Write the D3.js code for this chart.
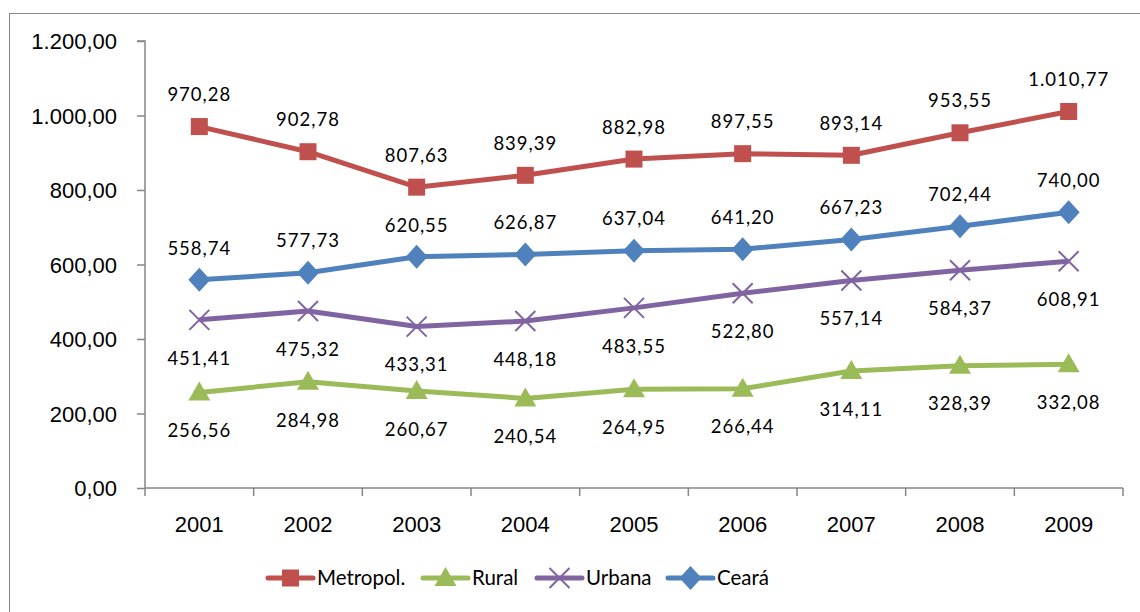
<!DOCTYPE html>
<html lang="pt">
<head>
<meta charset="UTF-8">
<title>Metropol. / Rural / Urbana / Ceará</title>
<script src="https://d3js.org/d3.v7.min.js"></script>
<style>
    body { margin: 0; background: #fff; font-family: Lato, "Open Sans", sans-serif; }
    .tick text { font-size: 22px; fill: #000; }
    .data-label { font-size: 18.5px; letter-spacing: 1px; fill: #000; }
    .legend text { font-size: 20.5px; fill: #000; }
</style>
</head>
<body>
<div id="chart"></div>
<script>
    const years = ["2001", "2002", "2003", "2004", "2005", "2006", "2007", "2008", "2009"];
    const metropol = [970.28, 902.78, 807.63, 839.39, 882.98, 897.55, 893.14, 953.55, 1010.77];
    const rural = [256.56, 284.98, 260.67, 240.54, 264.95, 266.44, 314.11, 328.39, 332.08];
    const urbana = [451.41, 475.32, 433.31, 448.18, 483.55, 522.80, 557.14, 584.37, 608.91];
    const ceara = [558.74, 577.73, 620.55, 626.87, 637.04, 641.20, 667.23, 702.44, 740.00];
    const yTicks = [0, 200, 400, 600, 800, 1000, 1200];

    const series = [
        { name: "Metropol.", values: metropol, color: "#C0504D", marker: "square", above: true },
        { name: "Rural", values: rural, color: "#9BBB59", marker: "triangle", above: false },
        { name: "Urbana", values: urbana, color: "#8064A2", marker: "x", above: false },
        { name: "Ceará", values: ceara, color: "#4F81BD", marker: "diamond", above: true }
    ];

    const width = 1140, height = 612;
    const plot = { left: 145, right: 1123, top: 41, bottom: 488 };

    // pt-BR number format: 1.010,77
    const fmt = d3.formatLocale({ decimal: ",", thousands: ".", grouping: [3], currency: ["R$", ""] }).format(",.2f");

    const svg = d3.select("#chart").append("svg")
        .attr("width", width)
        .attr("height", height);

    // outer chart border (runs off the right/bottom edge)
    svg.append("rect")
        .attr("x", 9.5).attr("y", 13.5)
        .attr("width", width + 10).attr("height", height + 10)
        .attr("fill", "none").attr("stroke", "#888").attr("stroke-width", 1);

    const x = d3.scaleBand().domain(years).range([plot.left, plot.right]);
    const y = d3.scaleLinear().domain([0, 1200]).range([plot.bottom, plot.top]);

    // y axis
    const yAxis = svg.append("g")
        .attr("transform", `translate(${plot.left},0)`)
        .call(d3.axisLeft(y).tickValues(yTicks).tickFormat(fmt).tickSize(8).tickPadding(20));
    yAxis.selectAll("line, path").attr("stroke", "#868686").attr("stroke-width", 1.5);
    yAxis.select(".domain").attr("d", `M-8,${plot.top}H0V${plot.bottom}`);
    yAxis.selectAll("text").attr("dy", "0.36em");

    // x axis with ticks between categories
    const xAxis = svg.append("g")
        .attr("transform", `translate(0,${plot.bottom})`)
        .call(d3.axisBottom(x).tickSize(0).tickPadding(28));
    xAxis.select(".domain").attr("stroke", "#868686").attr("stroke-width", 1.5)
        .attr("d", `M${plot.left},0H${plot.right}`);
    xAxis.selectAll(".sep")
        .data(d3.range(years.length + 1))
        .enter().append("line")
        .attr("class", "sep")
        .attr("x1", i => plot.left + i * x.step())
        .attr("x2", i => plot.left + i * x.step())
        .attr("y1", 0).attr("y2", 8)
        .attr("stroke", "#868686").attr("stroke-width", 1.5);

    const cx = i => x(years[i]) + x.bandwidth() / 2;

    function drawMarker(g, type, color) {
        if (type === "square") {
            g.append("rect").attr("x", -8.5).attr("y", -8.5).attr("width", 17).attr("height", 17).attr("fill", color);
        } else if (type === "triangle") {
            g.append("path").attr("d", "M0,-11L11,8L-11,8Z").attr("fill", color);
        } else if (type === "diamond") {
            g.append("path").attr("d", "M0,-12L11,0L0,12L-11,0Z").attr("fill", color);
        } else {
            g.append("path").attr("d", "M-10,-10L10,10M-10,10L10,-10")
                .attr("stroke", color).attr("stroke-width", 2).attr("fill", "none");
        }
    }

    const line = d3.line().x((d, i) => cx(i)).y(d => y(d));

    series.forEach(s => {
        svg.append("path")
            .datum(s.values)
            .attr("d", line)
            .attr("fill", "none")
            .attr("stroke", s.color)
            .attr("stroke-width", 5)
            .attr("stroke-linejoin", "round");

        s.values.forEach((v, i) => {
            const g = svg.append("g").attr("transform", `translate(${cx(i)},${y(v)})`);
            drawMarker(g, s.marker, s.color);
        });

        svg.selectAll(null)
            .data(s.values)
            .enter().append("text")
            .attr("class", "data-label")
            .attr("x", (d, i) => cx(i))
            .attr("y", d => y(d) + (s.above ? -32 : 38))
            .attr("dy", "0.36em")
            .attr("text-anchor", "middle")
            .text(d => fmt(d));
    });

    // legend
    const legendX = [268, 423, 537, 668];
    const legendY = 578;
    const legend = svg.append("g").attr("class", "legend");
    series.forEach((s, i) => {
        const g = legend.append("g").attr("transform", `translate(${legendX[i]},${legendY})`);
        g.append("line").attr("x1", 0).attr("x2", 45).attr("y1", 0).attr("y2", 0)
            .attr("stroke", s.color).attr("stroke-width", 5).attr("stroke-linecap", "round");
        const m = g.append("g").attr("transform", "translate(22.5,0)");
        drawMarker(m, s.marker, s.color);
        g.append("text").attr("x", 49).attr("y", 0).attr("dy", "0.36em").text(s.name);
    });
</script>
</body>
</html>
